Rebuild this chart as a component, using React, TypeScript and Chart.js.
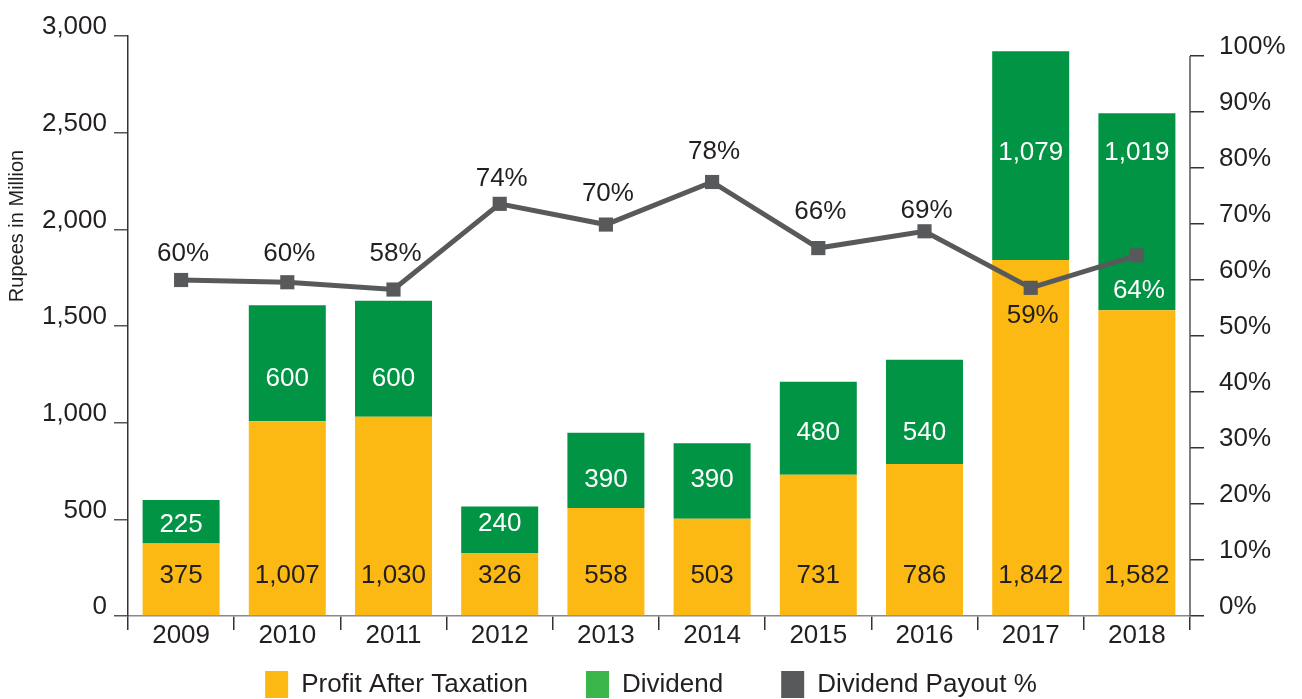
import React, { useEffect, useRef } from "react";
import { Chart, registerables } from "chart.js";

Chart.register(...registerables);

const categories = ["2009", "2010", "2011", "2012", "2013", "2014", "2015", "2016", "2017", "2018"];
const profitAfterTax = [375, 1007, 1030, 326, 558, 503, 731, 786, 1842, 1582];
const dividend = [225, 600, 600, 240, 390, 390, 480, 540, 1079, 1019];
const payoutPct = [60.0, 59.6, 58.3, 73.6, 69.9, 77.5, 65.7, 68.7, 58.6, 64.4];
const payoutLabels = ["60%", "60%", "58%", "74%", "70%", "78%", "66%", "69%", "59%", "64%"];
const leftTickValues = [0, 500, 1000, 1500, 2000, 2500, 3000];
const rightTickValues = [0, 10, 20, 30, 40, 50, 60, 70, 80, 90, 100];
const seriesNames = ["Profit After Taxation", "Dividend", "Dividend Payout %"];

const FONT = '"Liberation Sans", Arial, Helvetica, sans-serif';
const TEXT = "#231f20";
const ORANGE = "#FDB913";
const GREEN = "#009444";
const LEGEND_GREEN = "#39B54A";
const GREY = "#58595B";

// label placement (in axis units) – presentation only
const dividendLabelAt = [471, 1226, 1226, 476, 703, 703, 947, 947, 2395, 2395];
const pctLabelAt = [64.7, 64.7, 64.7, 78.0, 75.4, 82.9, 72.1, 72.3, 53.6, 58.0];
const pctLabelColor = [TEXT, TEXT, TEXT, TEXT, TEXT, TEXT, TEXT, TEXT, TEXT, "#ffffff"];

const labelsPlugin = {
  id: "customLabels",
  afterDatasetsDraw(chart: any) {
    const ctx = chart.ctx;
    const y = chart.scales.y;
    const y2 = chart.scales.y2;
    const m0 = chart.getDatasetMeta(0);
    const m2 = chart.getDatasetMeta(2);
    ctx.save();
    ctx.font = `26px ${FONT}`;
    ctx.textAlign = "center";
    ctx.textBaseline = "middle";
    m0.data.forEach((el: any, i: number) => {
      ctx.fillStyle = TEXT;
      ctx.fillText(profitAfterTax[i].toLocaleString("en-US"), el.x, y.getPixelForValue(0) - 40);
      ctx.fillStyle = "#ffffff";
      ctx.fillText(dividend[i].toLocaleString("en-US"), el.x, y.getPixelForValue(dividendLabelAt[i]));
    });
    m2.data.forEach((el: any, i: number) => {
      ctx.fillStyle = pctLabelColor[i];
      ctx.fillText(payoutLabels[i], el.x + 2, y2.getPixelForValue(pctLabelAt[i]));
    });
    ctx.restore();
  },
  afterDraw(chart: any) {
    const ctx = chart.ctx;
    const y2 = chart.scales.y2;
    const area = chart.chartArea;
    ctx.save();
    // right axis line (0% .. 100%)
    ctx.strokeStyle = "#555";
    ctx.lineWidth = 1.5;
    ctx.beginPath();
    ctx.moveTo(area.right, y2.getPixelForValue(100));
    ctx.lineTo(area.right, area.bottom);
    ctx.stroke();
    // y axis title
    ctx.font = `20px ${FONT}`;
    ctx.fillStyle = TEXT;
    ctx.textAlign = "center";
    ctx.textBaseline = "middle";
    ctx.translate(17, 226);
    ctx.rotate(-Math.PI / 2);
    ctx.fillText("Rupees in Million", 0, 0);
    ctx.restore();

    // legend
    ctx.save();
    ctx.font = `26px ${FONT}`;
    const colors = [ORANGE, LEGEND_GREEN, GREY];
    const boxW = 23, boxH = 27, gap = 13, spacing = 58;
    const widths = seriesNames.map((n) => ctx.measureText(n).width);
    const total = widths.reduce((a, b) => a + b, 0) + seriesNames.length * (boxW + gap) + spacing * (seriesNames.length - 1);
    let x = (chart.width - total) / 2;
    const cy = 685;
    ctx.textBaseline = "middle";
    ctx.textAlign = "left";
    seriesNames.forEach((n, i) => {
      ctx.fillStyle = colors[i];
      ctx.fillRect(x, cy - 14, boxW, boxH);
      ctx.fillStyle = TEXT;
      ctx.fillText(n, x + boxW + gap, cy);
      x += boxW + gap + widths[i] + spacing;
    });
    ctx.restore();
  },
};

export default function App() {
  const ref = useRef<HTMLCanvasElement>(null);
  useEffect(() => {
    document.body.style.margin = "0";
    Chart.defaults.font.family = FONT;
    const chart = new Chart(ref.current as HTMLCanvasElement, {
      type: "bar",
      data: {
        labels: categories,
        datasets: [
          {
            type: "bar",
            label: seriesNames[0],
            data: profitAfterTax,
            backgroundColor: ORANGE,
            stack: "s",
            order: 1,
            barPercentage: 0.725,
            categoryPercentage: 1,
            yAxisID: "y",
          },
          {
            type: "bar",
            label: seriesNames[1],
            data: dividend,
            backgroundColor: GREEN,
            stack: "s",
            order: 2,
            barPercentage: 0.725,
            categoryPercentage: 1,
            yAxisID: "y",
          },
          {
            type: "line",
            label: seriesNames[2],
            data: payoutPct,
            borderColor: GREY,
            backgroundColor: GREY,
            borderWidth: 5,
            pointStyle: "rect",
            pointRadius: 10,
            pointBorderWidth: 0,
            pointBackgroundColor: GREY,
            order: 0,
            yAxisID: "y2",
            tension: 0,
          } as any,
        ],
      },
      options: {
        animation: false,
        responsive: false,
        layout: { padding: { top: 36, left: 0, right: 0, bottom: 47 } },
        plugins: {
          legend: { display: false },
          tooltip: { enabled: false },
        },
        scales: {
          x: {
            stacked: true,
            offset: true,
            grid: {
              display: true,
              offset: true,
              drawOnChartArea: false,
              drawTicks: true,
              tickLength: 14,
              color: "#333",
              lineWidth: 1.5,
            },
            border: { display: true, color: "#888", width: 1.5 },
            ticks: { padding: -10, color: TEXT, font: { size: 26, family: FONT } },
            afterFit: (s: any) => {
              s.height = 36;
            },
          },
          y: {
            stacked: true,
            position: "left",
            min: 0,
            max: 3000,
            afterBuildTicks: (s: any) => {
              s.ticks = leftTickValues.map((v) => ({ value: v }));
            },
            grid: { drawOnChartArea: false, tickLength: 14, color: "#555", lineWidth: 1.5 },
            border: { display: true, color: "#333", width: 1.5 },
            ticks: {
              padding: 7,
              labelOffset: -9,
              color: TEXT,
              font: { size: 26, family: FONT },
              callback: (v: any) => Number(v).toLocaleString("en-US"),
            },
            afterFit: (s: any) => {
              s.width = 128;
            },
          },
          y2: {
            position: "right",
            min: 0,
            max: (100 * 580) / 560,
            afterBuildTicks: (s: any) => {
              s.ticks = rightTickValues.map((v) => ({ value: v }));
            },
            grid: { drawOnChartArea: false, tickLength: 14, color: "#333", lineWidth: 1.5 },
            border: { display: false },
            ticks: {
              padding: 15,
              labelOffset: -9,
              color: TEXT,
              font: { size: 26, family: FONT },
              callback: (v: any) => `${v}%`,
            },
            afterFit: (s: any) => {
              s.width = 112;
            },
          },
        },
      },
      plugins: [labelsPlugin],
    });
    return () => chart.destroy();
  }, []);
  return (
    <div style={{ width: 1302, height: 699 }}>
      <canvas ref={ref} width={1302} height={699} style={{ display: "block" }} />
    </div>
  );
}
